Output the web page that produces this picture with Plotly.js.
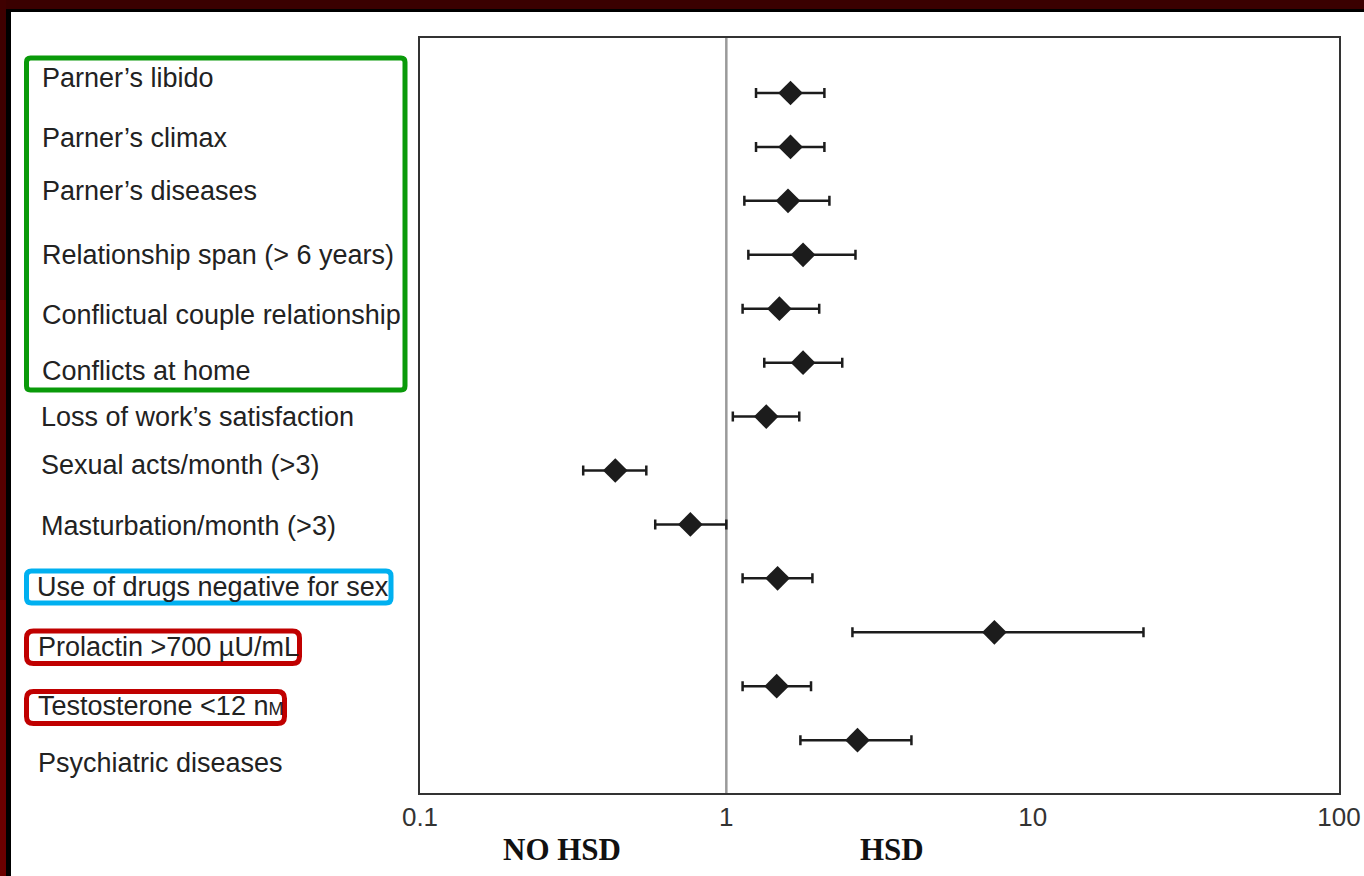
<!DOCTYPE html>
<html>
<head>
<meta charset="utf-8">
<script src="https://cdn.plot.ly/plotly-3.0.1.min.js"></script>
<style>
  html, body { margin: 0; padding: 0; background: #ffffff; }
  #chart { width: 1364px; height: 876px; }
</style>
</head>
<body>
<div id="chart"></div>
<script>
// ---- Data (odds ratios with 95% CI) ----
const categories = [
  "Parner’s libido",
  "Parner’s climax",
  "Parner’s diseases",
  "Relationship span (&gt; 6 years)",
  "Conflictual couple relationship",
  "Conflicts at home",
  "Loss of work’s satisfaction",
  "Sexual acts/month (&gt;3)",
  "Masturbation/month (&gt;3)",
  "Use of drugs negative for sex",
  "Prolactin &gt;700 µU/mL",
  "Testosterone &lt;12 n<span style=\"font-size:18px\">M</span>",
  "Psychiatric diseases"
];
const orValues = [1.62, 1.62, 1.59, 1.78, 1.49, 1.78, 1.35, 0.434, 0.763, 1.47, 7.5, 1.46, 2.68];
const ciLow    = [1.25, 1.25, 1.145, 1.18, 1.13, 1.33, 1.05, 0.341, 0.586, 1.13, 2.58, 1.13, 1.745];
const ciHigh   = [2.09, 2.09, 2.17, 2.64, 2.01, 2.39, 1.73, 0.548, 1.0, 1.91, 23.0, 1.89, 4.02];
const tickValues = [0.1, 1, 10, 100];
const tickLabels = ["0.1", "1", "10", "100"];
const sideLabels = ["NO HSD", "HSD"];

// ---- Geometry helpers (plot area placement in pixels) ----
const W = 1364, H = 876;
const PL = 420, PR = 1339, PT = 38, PB = 793;
const px = x => (x - PL) / (PR - PL);
const py = y => (PB - y) / (PB - PT);

const rowIdx = categories.map((_, i) => i);

// label positions (pixel x start, pixel y center) - layout only
const labelX = [40, 40, 40, 40, 40, 40, 39, 39, 39, 35, 36, 36, 36];
const labelY = [78, 138, 191, 255, 315, 371, 417, 465, 526, 587, 647, 706, 763];

const traces = [
  {
    x: [1, 1], y: [-1.02, 12.98],
    mode: "lines", line: {color: "#9a9a9a", width: 2.5},
    hoverinfo: "skip", showlegend: false
  },
  {
    x: orValues, y: rowIdx,
    mode: "markers", type: "scatter",
    marker: {symbol: "diamond", size: 19, color: "#1c1c1c"},
    error_x: {
      type: "data", symmetric: false,
      array: orValues.map((v, i) => ciHigh[i] - v),
      arrayminus: orValues.map((v, i) => v - ciLow[i]),
      color: "#1c1c1c", thickness: 2.5, width: 5
    },
    showlegend: false
  }
];

function roundRect(x0, y0, x1, y1, r) {
  const P = (x, y) => px(x) + "," + py(y);
  return "M" + P(x0 + r, y0) + " L" + P(x1 - r, y0) + " Q" + P(x1, y0) + " " + P(x1, y0 + r) +
         " L" + P(x1, y1 - r) + " Q" + P(x1, y1) + " " + P(x1 - r, y1) +
         " L" + P(x0 + r, y1) + " Q" + P(x0, y1) + " " + P(x0, y1 - r) +
         " L" + P(x0, y0 + r) + " Q" + P(x0, y0) + " " + P(x0 + r, y0) + " Z";
}

const rectPx = (x0, y0, x1, y1, color) => ({
  type: "rect", xref: "paper", yref: "paper",
  x0: px(x0), x1: px(x1), y0: py(y1), y1: py(y0),
  fillcolor: color, line: {width: 0}, layer: "above"
});

const shapes = [
  // frame (top & left)
  rectPx(0, 0, W, 9, "#3a0000"),
  rectPx(0, 9, W, 12, "#000000"),
  rectPx(0, 0, 6, 300, "#3f0000"),
  rectPx(0, 300, 6, 600, "#560000"),
  rectPx(0, 600, 6, H, "#6c0000"),
  rectPx(6, 9, 11, H, "#000000"),
  // highlight boxes
  {type: "path", xref: "paper", yref: "paper", path: roundRect(26.5, 58, 405, 390, 4),
   line: {color: "#0a9a0a", width: 5}, layer: "above"},
  {type: "path", xref: "paper", yref: "paper", path: roundRect(26.5, 571, 391, 603, 5),
   line: {color: "#00b0f0", width: 5}, layer: "above"},
  {type: "path", xref: "paper", yref: "paper", path: roundRect(26.5, 631, 299.5, 663.5, 7),
   line: {color: "#c00000", width: 5}, layer: "above"},
  {type: "path", xref: "paper", yref: "paper", path: roundRect(26.5, 691.5, 284.5, 723.5, 7),
   line: {color: "#c00000", width: 5}, layer: "above"}
];

const annotations = categories.map((c, i) => ({
  xref: "paper", yref: "paper",
  x: px(labelX[i]), y: py(labelY[i]),
  xanchor: "left", yanchor: "middle",
  text: c, showarrow: false,
  font: {family: "Liberation Sans, Arial, sans-serif", size: 27, color: "#222222"}
}));
annotations.push({
  xref: "paper", yref: "paper", x: px(562), y: py(849), xanchor: "center", yanchor: "middle",
  text: "<b>" + sideLabels[0] + "</b>", showarrow: false,
  font: {family: "Liberation Serif, Times New Roman, serif", size: 31, color: "#111111"}
});
annotations.push({
  xref: "paper", yref: "paper", x: px(892), y: py(849), xanchor: "center", yanchor: "middle",
  text: "<b>" + sideLabels[1] + "</b>", showarrow: false,
  font: {family: "Liberation Serif, Times New Roman, serif", size: 31, color: "#111111"}
});

const layout = {
  width: W, height: H,
  margin: {l: PL, r: W - PR, t: PT, b: H - PB, pad: 0},
  paper_bgcolor: "#ffffff", plot_bgcolor: "#ffffff",
  showlegend: false,
  xaxis: {
    type: "log", range: [-1, 2],
    tickvals: tickValues, ticktext: tickLabels,
    ticks: "", showgrid: false, zeroline: false,
    showline: true, mirror: true, linecolor: "#333333", linewidth: 2,
    tickfont: {family: "Liberation Sans, Arial, sans-serif", size: 26, color: "#333333"},
    ticklabelstandoff: 0
  },
  yaxis: {
    range: [12.98, -1.02],
    showticklabels: false, ticks: "", showgrid: false, zeroline: false,
    showline: true, mirror: true, linecolor: "#333333", linewidth: 2
  },
  shapes: shapes,
  annotations: annotations
};

Plotly.newPlot("chart", traces, layout, {displayModeBar: false, staticPlot: true});
</script>
</body>
</html>
